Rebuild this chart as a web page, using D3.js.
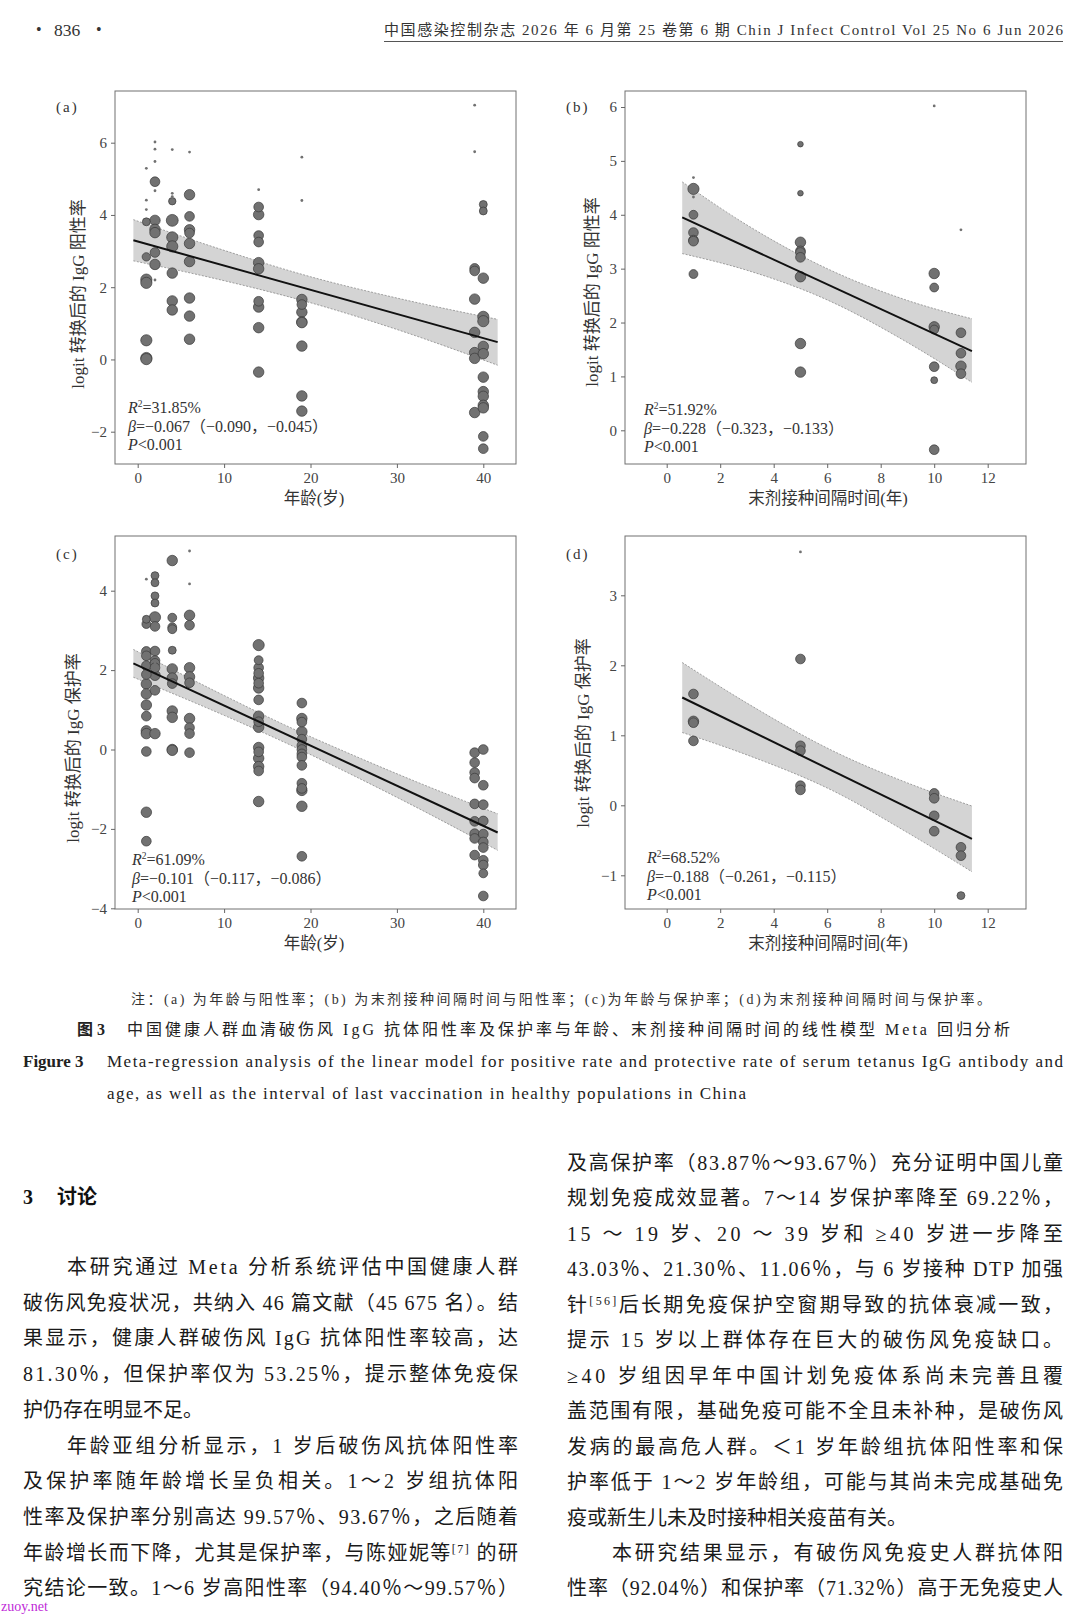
<!DOCTYPE html>
<html lang="zh">
<head>
<meta charset="UTF-8">
<title>Figure 3 meta-regression</title>
<script src="https://cdn.jsdelivr.net/npm/d3@7"></script>
<style>
  body { margin: 0; background: #fff; }
  svg text { font-family: "Liberation Serif", "Noto Sans CJK SC", serif; }
</style>
</head>
<body>
<svg id="page" width="1080" height="1619"></svg>
<script>
// ---- data: [x, logit value, study weight] ----
const pointsA = [
  [1,5.29,1],[1,4.41,1],[1,4.15,1],[1,3.81,8],[1,2.84,9],[1,2.21,16],[1,2.12,16],[1,0.53,16],[1,0.04,16],[1,0.01,16],
  [2,6.02,1],[2,5.82,1],[2,5.48,1],[2,4.67,1],[2,2.20,1],[2,4.92,12],[2,3.85,14],[2,3.60,14],[2,3.51,14],[2,2.96,12],[2,2.63,14],
  [4,5.81,1],[4,4.60,1],[4,4.51,1],[4,4.38,7],[4,3.85,18],[4,3.38,16],[4,3.13,16],[4,2.39,14],[4,1.62,14],[4,1.37,14],
  [6,5.74,1],[6,4.56,14],[6,3.96,12],[6,3.59,14],[6,3.50,12],[6,3.21,14],[6,2.71,14],[6,1.70,14],[6,1.20,14],[6,0.56,14],
  [14,4.70,1],[14,4.22,12],[14,4.01,14],[14,3.43,12],[14,3.25,12],[14,2.68,14],[14,2.51,14],[14,1.61,12],[14,1.45,14],[14,0.88,14],[14,-0.35,14],
  [19,5.60,1],[19,4.40,1],[19,1.66,14],[19,1.52,12],[19,1.31,14],[19,1.04,14],[19,1.02,14],[19,0.37,14],[19,-1.01,14],[19,-1.43,14],
  [39,7.04,1],[39,5.75,1],[39,2.52,12],[39,2.45,12],[39,1.67,14],[39,0.75,14],[39,0.19,14],[39,0.03,14],[39,-1.47,14],
  [40,4.29,8],[40,4.11,8],[40,2.25,14],[40,1.18,16],[40,1.06,16],[40,0.36,14],[40,0.16,14],[40,-0.49,14],[40,-0.89,14],
  [40,-1.02,14],[40,-1.27,14],[40,-1.34,14],[40,-2.13,12],[40,-2.47,12]
];
const pointsB = [
  [1,4.69,1],[1,4.33,1],[1,4.48,16],[1,4.00,10],[1,3.67,12],[1,3.53,12],[1,3.51,12],[1,2.90,10],
  [5,5.31,4],[5,4.40,4],[5,3.49,14],[5,3.33,12],[5,3.30,12],[5,3.21,12],[5,2.85,14],[5,1.61,14],[5,1.08,14],
  [10,6.02,1],[10,2.91,14],[10,2.65,10],[10,1.92,14],[10,1.87,10],[10,1.18,12],[10,0.93,6],[10,-0.36,12],
  [11,3.72,1],[11,1.81,12],[11,1.43,12],[11,1.19,14],[11,1.05,12]
];
const pointsC = [
  [1,4.29,1],[1,3.28,8],[1,3.16,10],[1,2.47,12],[1,2.36,12],[1,2.11,12],[1,1.89,12],[1,1.65,14],[1,1.40,14],[1,1.12,14],
  [1,0.84,12],[1,0.47,14],[1,0.40,14],[1,-0.05,12],[1,-1.58,14],[1,-2.31,12],
  [2,4.38,8],[2,4.20,8],[2,3.87,8],[2,3.69,8],[2,3.33,16],[2,3.10,12],[2,2.48,12],[2,2.24,12],[2,2.17,12],[2,2.06,12],
  [2,1.87,14],[2,1.49,12],[2,0.40,14],[2,2.18,1],
  [4,4.76,14],[4,3.32,10],[4,3.08,10],[4,3.03,10],[4,2.50,8],[4,2.03,14],[4,1.80,14],[4,1.66,12],[4,0.97,14],[4,0.81,14],[4,0.00,14],[4,-0.02,14],
  [6,5.00,1],[6,4.17,1],[6,3.38,14],[6,3.13,12],[6,2.06,14],[6,1.83,14],[6,1.68,12],[6,0.78,14],[6,0.55,12],[6,0.40,12],[6,-0.08,12],
  [14,2.63,16],[14,2.25,10],[14,2.06,12],[14,1.92,12],[14,1.80,14],[14,1.67,12],[14,1.55,14],[14,1.25,12],[14,0.84,14],
  [14,0.70,12],[14,0.56,14],[14,0.05,14],[14,-0.06,12],[14,-0.22,14],[14,-0.43,14],[14,-0.54,12],[14,-1.31,14],
  [19,1.17,12],[19,0.78,14],[19,0.69,12],[19,0.45,14],[19,0.26,12],[19,0.10,12],[19,0.00,12],[19,-0.11,12],[19,-0.19,12],
  [19,-0.40,12],[19,-0.85,12],[19,-0.98,12],[19,-1.03,14],[19,-1.43,14],[19,-2.69,12],
  [39,-0.08,12],[39,-0.33,12],[39,-0.58,12],[39,-0.72,12],[39,-1.37,12],[39,-1.81,12],[39,-2.12,12],[39,-2.24,12],[39,-2.66,12],
  [40,0.00,12],[40,-0.90,12],[40,-1.39,12],[40,-1.80,12],[40,-2.13,12],[40,-2.33,12],[40,-2.47,12],[40,-2.79,12],
  [40,-2.91,12],[40,-3.12,10],[40,-3.69,12]
];
const pointsD = [
  [1,1.59,12],[1,1.20,14],[1,1.18,12],[1,0.92,12],
  [5,3.62,1],[5,2.09,12],[5,0.85,12],[5,0.78,12],[5,0.28,12],[5,0.22,12],
  [10,0.17,12],[10,0.10,12],[10,-0.15,12],[10,-0.37,12],
  [11,-0.60,12],[11,-0.72,12],[11,-1.29,8]
];

// fitted lines (end points) and confidence band edges
const fitXA = [-0.5, 41.66], fitYA = [3.30, 0.48];
const bandXA = [-0.5, 10, 20, 30, 41.66];
const bandHiA = [3.87, 3.02, 2.29, 1.70, 1.11];
const bandLoA = [2.73, 2.18, 1.57, 0.83, -0.16];

const fitXB = [0.58, 11.41], fitYB = [3.95, 1.47];
const bandXB = [0.58, 3, 6, 9, 11.41];
const bandHiB = [4.61, 3.81, 3.00, 2.41, 2.07];
const bandLoB = [3.28, 2.97, 2.42, 1.63, 0.89];

const fitXC = [-0.5, 41.66], fitYC = [2.17, -2.09];
const bandXC = [-0.5, 10, 17, 25, 33, 41.66];
const bandHiC = [2.52, 1.36, 0.62, -0.15, -0.88, -1.62];
const bandLoC = [1.82, 0.86, 0.18, -0.66, -1.54, -2.54];

const fitXD = [0.58, 11.41], fitYD = [1.54, -0.48];
const bandXD = [0.58, 3, 6.2, 9, 11.41];
const bandHiD = [2.04, 1.46, 0.78, 0.32, -0.01];
const bandLoD = [1.04, 0.72, 0.21, -0.39, -0.95];

const ageTicks = [0, 10, 20, 30, 40];
const gapTicks = [0, 2, 4, 6, 8, 10, 12];
const yTicksA = [-2, 0, 2, 4, 6];
const yTicksB = [0, 1, 2, 3, 4, 5, 6];
const yTicksC = [-4, -2, 0, 2, 4];
const yTicksD = [-1, 0, 1, 2, 3];

const r2Text = ["31.85%", "51.92%", "61.09%", "68.52%"];
const betaText = ["−0.067（−0.090，−0.045）", "−0.228（−0.323，−0.133）",
                  "−0.101（−0.117，−0.086）", "−0.188（−0.261，−0.115）"];
const xTitles = ["年龄(岁)", "末剂接种间隔时间(年)", "年龄(岁)", "末剂接种间隔时间(年)"];
const yTitles = ["logit 转换后的 IgG 阳性率", "logit 转换后的 IgG 阳性率",
                 "logit 转换后的 IgG 保护率", "logit 转换后的 IgG 保护率"];

const leftLines = [
  "本研究通过 Meta 分析系统评估中国健康人群",
  "破伤风免疫状况，共纳入 46 篇文献（45 675 名）。结",
  "果显示，健康人群破伤风 IgG 抗体阳性率较高，达",
  "81.30％，但保护率仅为 53.25％，提示整体免疫保",
  "护仍存在明显不足。",
  "年龄亚组分析显示，1 岁后破伤风抗体阳性率",
  "及保护率随年龄增长呈负相关。1～2 岁组抗体阳",
  "性率及保护率分别高达 99.57％、93.67％，之后随着",
  "年龄增长而下降，尤其是保护率，与陈娅妮等^[7]^ 的研",
  "究结论一致。1～6 岁高阳性率（94.40％～99.57％）"
];
const rightLines = [
  "及高保护率（83.87％～93.67％）充分证明中国儿童",
  "规划免疫成效显著。7～14 岁保护率降至 69.22％，",
  "15 ～ 19 岁、20 ～ 39 岁和 ≥40 岁进一步降至",
  "43.03％、21.30％、11.06％，与 6 岁接种 DTP 加强",
  "针^[56]^后长期免疫保护空窗期导致的抗体衰减一致，",
  "提示 15 岁以上群体存在巨大的破伤风免疫缺口。",
  "≥40 岁组因早年中国计划免疫体系尚未完善且覆",
  "盖范围有限，基础免疫可能不全且未补种，是破伤风",
  "发病的最高危人群。＜1 岁年龄组抗体阳性率和保",
  "护率低于 1～2 岁年龄组，可能与其尚未完成基础免",
  "疫或新生儿未及时接种相关疫苗有关。",
  "本研究结果显示，有破伤风免疫史人群抗体阳",
  "性率（92.04％）和保护率（71.32％）高于无免疫史人"
];

// ---- drawing ----
const svg = d3.select("#page");
svg.append("rect").attr("width", 1080).attr("height", 1619).attr("fill", "#fff");

const rScale = d3.scaleSqrt().domain([0, 16]).range([0, 5.6]);

const panels = [
  {pts: pointsA, fx: fitXA, fy: fitYA, bx: bandXA, hi: bandHiA, lo: bandLoA, xt: ageTicks, yt: yTicksA,
   xDom: [0, 40], xRng: [137.7, 483.3], yDom: [6, -2], yRng: [142.7, 431.7], box: [115, 91, 516, 464],
   tag: "(a)", tagPos: [56, 112], yl: [78, 294], xl: [314, 498], st: [128, 413]},
  {pts: pointsB, fx: fitXB, fy: fitYB, bx: bandXB, hi: bandHiB, lo: bandLoB, xt: gapTicks, yt: yTicksB,
   xDom: [0, 12], xRng: [666.7, 987.7], yDom: [6, 0], yRng: [107, 430.3], box: [625, 91, 1026, 464],
   tag: "(b)", tagPos: [566, 112], yl: [592, 292], xl: [828, 498], st: [644, 415]},
  {pts: pointsC, fx: fitXC, fy: fitYC, bx: bandXC, hi: bandHiC, lo: bandLoC, xt: ageTicks, yt: yTicksC,
   xDom: [0, 40], xRng: [137.7, 483.3], yDom: [4, -4], yRng: [590.7, 908.3], box: [115, 536, 516, 909],
   tag: "(c)", tagPos: [56, 559], yl: [73, 748], xl: [314, 943], st: [132, 865]},
  {pts: pointsD, fx: fitXD, fy: fitYD, bx: bandXD, hi: bandHiD, lo: bandLoD, xt: gapTicks, yt: yTicksD,
   xDom: [0, 12], xRng: [666.7, 987.7], yDom: [3, -1], yRng: [595.3, 875.3], box: [625, 536, 1026, 909],
   tag: "(d)", tagPos: [566, 559], yl: [583, 733], xl: [828, 943], st: [647, 863]}
];

panels.forEach(function(p, i) {
  const g = svg.append("g");
  const x = d3.scaleLinear().domain(p.xDom).range(p.xRng);
  const y = d3.scaleLinear().domain(p.yDom).range(p.yRng);
  const [x0, y0, x1, y1] = p.box;

  const band = p.bx.map((v, k) => ({x: v, hi: p.hi[k], lo: p.lo[k]}));
  g.append("path").datum(band)
    .attr("d", d3.area().x(d => x(d.x)).y0(d => y(d.lo)).y1(d => y(d.hi)).curve(d3.curveMonotoneX))
    .attr("fill", "#d4d4d4");
  ["hi", "lo"].forEach(function(k) {
    g.append("path").datum(band)
      .attr("d", d3.line().x(d => x(d.x)).y(d => y(d[k])).curve(d3.curveMonotoneX))
      .attr("fill", "none").attr("stroke", "#8a8a8a").attr("stroke-width", 0.8)
      .attr("stroke-dasharray", "2,1.5");
  });

  // bubbles, big first so small dots stay visible
  const pts = p.pts.slice().sort((a, b) => b[2] - a[2]);
  g.selectAll("circle").data(pts).enter().append("circle")
    .attr("cx", d => x(d[0])).attr("cy", d => y(d[1])).attr("r", d => rScale(d[2]))
    .attr("fill", "#717171").attr("stroke", "#3a3a3a").attr("stroke-width", d => d[2] > 2 ? 0.7 : 0);

  g.append("path").datum(p.fx.map((v, k) => [v, p.fy[k]]))
    .attr("d", d3.line().x(d => x(d[0])).y(d => y(d[1])))
    .attr("stroke", "#111").attr("stroke-width", 2).attr("fill", "none");

  g.append("rect").attr("x", x0).attr("y", y0).attr("width", x1 - x0).attr("height", y1 - y0)
    .attr("fill", "none").attr("stroke", "#707070").attr("stroke-width", 1);

  const styleAxis = a => {
    a.select(".domain").remove();
    a.selectAll("line").attr("stroke", "#666");
    a.selectAll("text").attr("fill", "#444");
    a.attr("font-family", '"Liberation Serif", serif').attr("font-size", 15);
  };
  g.append("g").attr("transform", `translate(0,${y1})`)
    .call(d3.axisBottom(x).tickValues(p.xt).tickSize(4).tickPadding(4).tickFormat(d3.format("d")))
    .call(styleAxis);
  g.append("g").attr("transform", `translate(${x0},0)`)
    .call(d3.axisLeft(y).tickValues(p.yt).tickSize(4).tickPadding(4).tickFormat(d3.format("d")))
    .call(styleAxis);

  g.append("text").attr("x", p.tagPos[0]).attr("y", p.tagPos[1]).attr("font-size", 15)
    .attr("letter-spacing", 2).attr("fill", "#333").text(p.tag);

  g.append("text").attr("transform", `translate(${p.yl[0]},${p.yl[1]}) rotate(-90)`)
    .attr("text-anchor", "middle").attr("dominant-baseline", "central")
    .attr("font-size", 17).attr("fill", "#333").text(yTitles[i]);
  g.append("text").attr("x", p.xl[0]).attr("y", p.xl[1])
    .attr("text-anchor", "middle").attr("dominant-baseline", "central")
    .attr("font-size", 16.5).attr("fill", "#333").text(xTitles[i]);

  // statistics
  const sx = p.st[0], sy = p.st[1];
  const t1 = g.append("text").attr("x", sx).attr("y", sy).attr("font-size", 16).attr("fill", "#333");
  t1.append("tspan").attr("font-style", "italic").text("R");
  t1.append("tspan").attr("font-size", 9.5).attr("dy", -6).text("2");
  t1.append("tspan").attr("dy", 6).text("=" + r2Text[i]);
  const t2 = g.append("text").attr("x", sx).attr("y", sy + 18.7).attr("font-size", 16).attr("fill", "#333");
  t2.append("tspan").attr("font-style", "italic").text("β");
  t2.append("tspan").text("=" + betaText[i]);
  const t3 = g.append("text").attr("x", sx).attr("y", sy + 37.4).attr("font-size", 16).attr("fill", "#333");
  t3.append("tspan").attr("font-style", "italic").text("P");
  t3.append("tspan").text("<0.001");
});

// ---- page header ----
svg.append("text").attr("x", 36).attr("y", 35).attr("font-size", 16).attr("fill", "#333").text("•");
svg.append("text").attr("x", 54).attr("y", 36).attr("font-size", 17.5).attr("fill", "#333").text("836");
svg.append("text").attr("x", 96).attr("y", 35).attr("font-size", 16).attr("fill", "#333").text("•");
svg.append("text").attr("x", 384).attr("y", 35).attr("font-size", 15).attr("fill", "#333")
  .attr("textLength", 679).attr("lengthAdjust", "spacing")
  .text("中国感染控制杂志 2026 年 6 月第 25 卷第 6 期   Chin J Infect Control Vol 25 No 6 Jun 2026");
svg.append("line").attr("x1", 384).attr("x2", 1063).attr("y1", 41.5).attr("y2", 41.5)
  .attr("stroke", "#555").attr("stroke-width", 1);

// ---- captions ----
svg.append("text").attr("x", 131).attr("y", 1004).attr("font-size", 14).attr("fill", "#333")
  .attr("textLength", 860).attr("lengthAdjust", "spacing")
  .text("注：(a) 为年龄与阳性率；(b) 为末剂接种间隔时间与阳性率；(c)为年龄与保护率；(d)为末剂接种间隔时间与保护率。");
svg.append("text").attr("x", 77).attr("y", 1035).attr("font-size", 16).attr("font-weight", "bold")
  .attr("fill", "#222").text("图 3");
svg.append("text").attr("x", 127).attr("y", 1035).attr("font-size", 16).attr("fill", "#222")
  .attr("textLength", 883).attr("lengthAdjust", "spacing")
  .text("中国健康人群血清破伤风 IgG 抗体阳性率及保护率与年龄、末剂接种间隔时间的线性模型 Meta 回归分析");
svg.append("text").attr("x", 23).attr("y", 1067).attr("font-size", 17).attr("font-weight", "bold")
  .attr("fill", "#222").text("Figure 3");
svg.append("text").attr("x", 107).attr("y", 1067).attr("font-size", 17).attr("fill", "#222")
  .attr("textLength", 956).attr("lengthAdjust", "spacing")
  .text("Meta-regression analysis of the linear model for positive rate and protective rate of serum tetanus IgG antibody and");
svg.append("text").attr("x", 107).attr("y", 1099).attr("font-size", 17).attr("fill", "#222")
  .attr("textLength", 639).attr("lengthAdjust", "spacing")
  .text("age, as well as the interval of last vaccination in healthy populations in China");

// ---- body text ----
svg.append("text").attr("x", 23).attr("y", 1204).attr("font-size", 20).attr("font-weight", "bold")
  .attr("fill", "#111").text("3");
svg.append("text").attr("x", 57).attr("y", 1204).attr("font-size", 20).attr("font-weight", "bold")
  .attr("fill", "#111").text("讨论");

function bodyLine(x, y, w, str, stretch) {
  const t = svg.append("text").attr("x", x).attr("y", y).attr("font-size", 20).attr("fill", "#1a1a1a");
  if (stretch) t.attr("textLength", w).attr("lengthAdjust", "spacing");
  str.split("^").forEach(function(s, k) {
    if (!s) return;
    const sp = t.append("tspan").text(s);
    if (k % 2 === 1) sp.attr("font-size", 12).attr("baseline-shift", "super");
  });
}
leftLines.forEach(function(s, k) {
  const indent = (k === 0 || k === 5);
  const x = indent ? 67 : 23;
  bodyLine(x, 1274 + k * 35.7, 518 - x, s, k !== 4);
});
rightLines.forEach(function(s, k) {
  const indent = (k === 11);
  const x = indent ? 612 : 567;
  bodyLine(x, 1170 + k * 35.45, 1063 - x, s, k !== 10);
});

svg.append("text").attr("x", 1).attr("y", 1611).attr("font-size", 14)
  .attr("font-family", '"DejaVu Sans", sans-serif').attr("fill", "#c02ad8").text("zuoy.net");
</script>
</body>
</html>
